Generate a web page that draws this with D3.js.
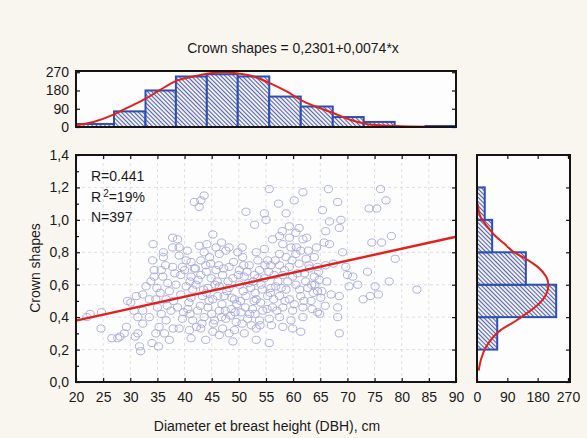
<!DOCTYPE html>
<html>
<head>
<meta charset="utf-8">
<script src="https://cdn.jsdelivr.net/npm/d3@7/dist/d3.min.js"></script>
<style>
  body { margin: 0; background: #f9f6f0; }
  svg { display: block; font-family: "Liberation Sans", Arial, sans-serif; }
</style>
</head>
<body>
<svg id="chart" width="587" height="438"></svg>
<script>
// ---- data ----
var title = "Crown shapes = 0,2301+0,0074*x";
var intercept = 0.2301, slope = 0.0074;
var statR = "R=0.441", statN = "N=397";

var xTicks = [20, 25, 30, 35, 40, 45, 50, 55, 60, 65, 70, 75, 80, 85, 90];
var yTicks = [0, 0.2, 0.4, 0.6, 0.8, 1.0, 1.2, 1.4];
var countTicks = [0, 90, 180, 270];

// DBH (cm), crown shape
var points = [
  [22.6,0.42],[22.0,0.40],[24.6,0.33],[24.7,0.43],[26.6,0.27],[27.7,0.27],[28.1,0.28],[28.9,0.30],[29.3,0.34],[29.5,0.50],
  [30.1,0.49],[30.7,0.44],[30.9,0.28],[31.1,0.53],[31.4,0.40],[31.4,0.30],[31.7,0.22],[31.9,0.19],[32.3,0.54],[32.3,0.44],
  [32.3,0.36],[32.9,0.59],[33.5,0.51],[33.8,0.62],[34.1,0.75],[34.2,0.85],[34.4,0.69],[34.4,0.65],[34.7,0.51],[34.7,0.30],
  [35.0,0.46],[35.3,0.34],[35.7,0.69],[35.7,0.42],[36.0,0.65],[36.1,0.80],[36.1,0.77],[36.3,0.30],[36.6,0.51],[36.6,0.38],
  [37.2,0.56],[37.2,0.26],[37.5,0.44],[37.8,0.89],[37.8,0.83],[37.8,0.71],[34.0,0.24],[35.2,0.22],[33.5,0.40],[34.9,0.58],
  [36.9,0.61],[37.9,0.33],[36.8,0.47],
  [41.8,1.11],[43.0,1.12],[43.6,1.15],[42.7,1.08],[51.3,1.05],[52.9,0.97],[54.7,1.04],[55.0,1.00],[55.6,1.19],
  [45.2,0.91],[38.7,0.88],[39.0,0.83],[42.7,0.84],[43.6,0.80],[45.8,0.83],[47.6,0.81],[48.2,0.83],
  [39.0,0.78],[40.3,0.75],[41.2,0.74],[43.0,0.75],[44.6,0.77],[46.4,0.79],[49.8,0.80],[50.7,0.77],[53.2,0.80],[54.7,0.82],
  [56.2,0.88],[53.5,0.75],[55.3,0.75],
  [39.6,0.71],[41.8,0.70],[43.9,0.72],[45.8,0.69],[48.2,0.71],[50.1,0.69],[51.9,0.72],[53.8,0.69],[55.9,0.72],
  [39.3,0.66],[41.2,0.65],[43.0,0.66],[44.9,0.64],[47.0,0.66],[48.9,0.64],[51.0,0.65],[52.9,0.66],[54.7,0.64],[56.5,0.66],
  [38.4,0.60],[40.3,0.59],[42.1,0.60],[44.3,0.58],[46.4,0.59],[48.2,0.58],[50.1,0.60],[52.2,0.58],[54.1,0.60],[55.9,0.58],
  [39.3,0.54],[41.2,0.52],[43.3,0.53],[45.2,0.51],[47.3,0.53],[49.2,0.51],[51.3,0.53],[53.2,0.51],[55.3,0.53],
  [38.7,0.46],[40.6,0.45],[42.4,0.44],[44.3,0.46],[46.4,0.44],[48.6,0.45],[50.4,0.43],[52.5,0.45],[54.4,0.44],[56.2,0.46],
  [39.6,0.39],[41.5,0.38],[43.6,0.40],[45.5,0.38],[47.6,0.39],[49.5,0.37],[51.6,0.39],[53.8,0.38],[55.6,0.39],
  [39.0,0.33],[40.9,0.32],[43.0,0.33],[45.2,0.31],[47.0,0.33],[49.2,0.32],[51.0,0.30],[53.2,0.33],
  [41.2,0.27],[43.9,0.26],[46.4,0.29],[48.2,0.30],[48.9,0.25],[53.2,0.26],[55.6,0.24],
  [40.0,0.69],[42.5,0.63],[44.0,0.55],[46.0,0.62],[47.8,0.56],[49.6,0.48],[50.8,0.56],[52.6,0.62],[54.0,0.49],[55.8,0.55],
  [40.8,0.49],[42.9,0.47],[45.0,0.42],[46.9,0.48],[48.5,0.41],[50.6,0.36],[52.0,0.42],[53.9,0.35],[41.5,0.57],[44.0,0.68],
  [46.3,0.72],[49.0,0.74],[51.5,0.68],[53.0,0.55],[45.3,0.36],[47.5,0.44],[57.2,0.62],[43.2,0.36],
  [35.5,0.55],[36.5,0.72],[38.0,0.50],[38.2,0.67],[39.8,0.43],[40.5,0.81],[41.0,0.62],[42.0,0.70],[42.2,0.34],[43.5,0.57],
  [44.5,0.50],[44.8,0.73],[45.6,0.60],[46.1,0.53],[46.8,0.40],[47.2,0.70],[48.0,0.62],[48.7,0.52],[49.3,0.43],[49.9,0.66],
  [50.3,0.50],[50.9,0.72],[51.2,0.46],[51.8,0.61],[52.3,0.35],[52.8,0.50],[53.5,0.64],[54.3,0.57],[54.8,0.72],[55.2,0.45],
  [55.5,0.68],[56.4,0.51],[56.7,0.75],[57.0,0.44],[57.8,0.58],[58.4,0.69],[58.5,0.50],[59.0,0.62],[59.8,0.75],[60.2,0.48],
  [60.8,0.67],[61.2,0.57],[62.0,0.50],[62.3,0.62],[62.9,0.72],[63.5,0.45],[64.0,0.60],[64.7,0.68],[65.3,0.56],[66.0,0.72],
  [60.6,0.83],[58.0,0.93],[62.8,0.81],[63.7,0.55],[46.8,0.86],[50.6,0.83],[44.1,0.85],[41.0,0.42],[53.0,0.42],[56.0,0.35],
  [61.8,1.17],[60.2,1.12],[57.3,1.10],[58.7,1.04],[66.5,1.19],[68.2,1.11],[65.4,1.06],[66.7,0.99],[68.8,1.00],[68.5,0.95],
  [74.0,1.07],[66.0,0.93],[59.3,0.96],[61.1,0.95],[60.5,0.92],[59.3,0.89],[57.5,0.90],[61.8,0.88],
  [58.1,0.85],[59.6,0.83],[61.4,0.81],[57.5,0.79],[58.7,0.77],[60.5,0.79],[62.4,0.76],[63.9,0.77],[65.7,0.86],[66.7,0.85],
  [69.1,0.80],[57.5,0.72],[59.3,0.71],[61.1,0.73],[63.0,0.70],[64.5,0.71],
  [58.1,0.66],[59.9,0.65],[62.1,0.67],[63.9,0.65],[64.8,0.63],[69.7,0.71],[70.0,0.66],[71.0,0.65],[70.3,0.59],
  [56.8,0.59],[58.7,0.57],[60.5,0.60],[62.7,0.58],[64.5,0.56],[57.5,0.53],[59.3,0.51],[61.4,0.53],[63.3,0.50],[65.1,0.52],
  [58.1,0.46],[59.9,0.44],[61.8,0.46],[64.5,0.43],[57.5,0.40],[59.6,0.38],[61.8,0.40],[58.1,0.34],[59.9,0.33],[61.4,0.31],
  [68.5,0.30],[68.2,0.46],[68.5,0.53],[67.0,0.54],[71.9,0.60],[73.7,0.68],[68.2,0.40],
  [62.5,0.89],[64.3,0.83],[63.4,0.60],[65.9,0.47],[64.9,0.42],[66.2,0.62],[67.4,0.73],
  [75.4,1.07],[76.1,1.19],[77.1,1.12],[74.5,0.86],[76.3,0.86],[78.1,0.90],[78.8,0.76],[77.7,0.62],[75.1,0.59],[75.7,0.54],
  [72.9,0.51],[74.2,0.53],[82.8,0.57]
];

// histogram of DBH (top)
var dbhEdges = [20, 27, 32.8, 38.4, 44.1, 49.8, 55.6, 61.4, 67.3, 73, 78.7, 84.4, 90];
var dbhCounts = [15, 77, 180, 249, 260, 249, 150, 101, 49, 25, 0, 5];
var dbhFitX = [19.8, 23.2, 26.9, 29.3, 33.0, 35.5, 38.5, 41.6, 44.7, 47.1, 49.6, 52.7, 55.7, 58.8, 61.9, 64.9, 67.4, 70.5, 73.5, 76.6, 81.5, 90];
var dbhFitN = [8, 25, 61, 93, 142, 183, 227, 249, 265, 270, 265, 249, 216, 175, 126, 93, 69, 36, 15, 7, 2, 0];

// histogram of crown shape (right)
var csEdges = [0.2, 0.4, 0.6, 0.8, 1.0, 1.2];
var csCounts = [60, 235, 145, 45, 23];
var csFitY = [1.10, 1.02, 0.96, 0.91, 0.855, 0.80, 0.76, 0.71, 0.65, 0.60, 0.54, 0.475, 0.42, 0.37, 0.32, 0.27, 0.21, 0.14, 0.07];
var csFitN = [2, 10, 30, 50, 80, 110, 145, 180, 205, 212, 205, 180, 145, 110, 70, 45, 25, 12, 5];

// ---- drawing ----
var svg = d3.select("#chart");
var ink = "#141414", barBlue = "#2f4fae", red = "#e3211c";
var fmt = function(d){ return d3.format(".1f")(d).replace(".", ","); };

svg.append("rect").attr("width", 587).attr("height", 438).attr("fill", "#f9f6f0");

var defs = svg.append("defs");
var pat = defs.append("pattern").attr("id", "hatch")
    .attr("patternUnits", "userSpaceOnUse")
    .attr("width", 3).attr("height", 3)
    .attr("patternTransform", "rotate(-45)");
pat.append("rect").attr("width", 3).attr("height", 3).attr("fill", "#eceef8");
pat.append("line").attr("x1", 0.5).attr("y1", 0).attr("x2", 0.5).attr("y2", 3)
    .attr("stroke", "#45539e").attr("stroke-width", 0.9);

var x = d3.scaleLinear().domain([20, 90]).range([76, 456]);
var y = d3.scaleLinear().domain([0, 1.4]).range([382, 155]);
var topY = d3.scaleLinear().domain([0, 276]).range([127, 71]);
var rightX = d3.scaleLinear().domain([0, 276]).range([477, 570]);

function styleAxis(g){
  g.attr("font-family", "Liberation Sans, Arial, sans-serif").attr("font-size", 14).attr("color", ink);
  g.select(".domain").remove();
  g.selectAll(".tick line").attr("stroke-width", 1.2);
  g.selectAll("text").attr("fill", "#1a1a1a");
}

// ---- title ----
svg.append("text").attr("x", 293).attr("y", 53).attr("text-anchor", "middle")
    .attr("font-size", 14).attr("fill", "#1a1a1a").text(title);

// ---- main scatter panel ----
svg.append("rect").attr("x", x(20)).attr("y", y(1.4))
    .attr("width", x(90) - x(20)).attr("height", y(0) - y(1.4)).attr("fill", "#fdfdfe");

var grid = svg.append("g").attr("stroke", "#d6d6e0").attr("stroke-width", 0.8).attr("stroke-dasharray", "3,3");
grid.selectAll(".gx").data(xTicks.slice(1, -1)).enter().append("line")
    .attr("x1", d => x(d)).attr("x2", d => x(d)).attr("y1", y(0)).attr("y2", y(1.4));
grid.selectAll(".gy").data(yTicks.slice(1, -1)).enter().append("line")
    .attr("x1", x(20)).attr("x2", x(90)).attr("y1", d => y(d)).attr("y2", d => y(d));

svg.append("g").selectAll("ellipse").data(points).enter().append("ellipse")
    .attr("cx", d => x(d[0])).attr("cy", d => y(d[1]))
    .attr("rx", 4.1).attr("ry", 3.6)
    .attr("fill", "none").attr("stroke", "#a3a7d8").attr("stroke-width", 0.9);

svg.append("line")
    .attr("x1", x(20)).attr("y1", y(intercept + slope * 20))
    .attr("x2", x(90)).attr("y2", y(intercept + slope * 90))
    .attr("stroke", red).attr("stroke-width", 2.4);

svg.append("g").attr("transform", "translate(0," + y(0) + ")")
    .call(d3.axisBottom(x).tickValues(xTicks).tickSize(-4).tickPadding(10)).call(styleAxis);
svg.append("g").attr("transform", "translate(0," + y(1.4) + ")")
    .call(d3.axisTop(x).tickValues(xTicks).tickSize(-4).tickFormat("")).call(styleAxis);
svg.append("g").attr("transform", "translate(" + x(20) + ",0)")
    .call(d3.axisLeft(y).tickValues(yTicks).tickSize(-4).tickPadding(7).tickFormat(fmt)).call(styleAxis);
svg.append("g").attr("transform", "translate(" + x(20) + ",0)")
    .call(d3.axisLeft(y).tickValues(d3.range(1, 14, 2).map(d => d / 10)).tickSize(-3).tickFormat("")).call(styleAxis);
svg.append("g").attr("transform", "translate(" + x(90) + ",0)")
    .call(d3.axisRight(y).tickValues(yTicks).tickSize(-4).tickFormat("")).call(styleAxis);

svg.append("rect").attr("x", x(20)).attr("y", y(1.4))
    .attr("width", x(90) - x(20)).attr("height", y(0) - y(1.4))
    .attr("fill", "none").attr("stroke", ink).attr("stroke-width", 2);

var stats = svg.append("g").attr("font-size", 14).attr("fill", "#1a1a1a");
stats.append("text").attr("x", 91).attr("y", 181).text(statR);
var r2 = stats.append("text").attr("x", 91).attr("y", 202);
r2.append("tspan").text("R");
r2.append("tspan").attr("dy", -5).attr("dx", 2).attr("font-size", 10).text("2");
r2.append("tspan").attr("dy", 5).text("=19%");
stats.append("text").attr("x", 91).attr("y", 222).text(statN);

svg.append("text").attr("x", 267).attr("y", 431).attr("text-anchor", "middle")
    .attr("font-size", 14).attr("fill", "#1a1a1a").text("Diameter et breast height (DBH), cm");
svg.append("text").attr("transform", "translate(40,268) rotate(-90)").attr("text-anchor", "middle")
    .attr("font-size", 14).attr("fill", "#1a1a1a").text("Crown shapes");

// ---- top histogram ----
svg.append("rect").attr("x", x(20)).attr("y", topY(276))
    .attr("width", x(90) - x(20)).attr("height", topY(0) - topY(276)).attr("fill", "#fdfdfe");

var topBins = dbhCounts.map((c, i) => ({x0: dbhEdges[i], x1: dbhEdges[i + 1], n: c}));
svg.append("g").selectAll("rect").data(topBins).enter().append("rect")
    .attr("x", d => x(d.x0)).attr("width", d => x(d.x1) - x(d.x0))
    .attr("y", d => topY(d.n)).attr("height", d => topY(0) - topY(d.n))
    .attr("fill", "url(#hatch)").attr("stroke", barBlue).attr("stroke-width", 2);

svg.append("path").datum(dbhFitX.map((v, i) => [v, dbhFitN[i]]))
    .attr("d", d3.line().x(d => x(d[0])).y(d => topY(d[1])).curve(d3.curveMonotoneX))
    .attr("fill", "none").attr("stroke", red).attr("stroke-width", 2);

svg.append("g").attr("transform", "translate(" + x(20) + ",0)")
    .call(d3.axisLeft(topY).tickValues(countTicks).tickSize(-4).tickPadding(7)).call(styleAxis);
svg.append("g").attr("transform", "translate(" + x(90) + ",0)")
    .call(d3.axisRight(topY).tickValues(countTicks).tickSize(-4).tickFormat("")).call(styleAxis);
svg.append("rect").attr("x", x(20)).attr("y", topY(276))
    .attr("width", x(90) - x(20)).attr("height", topY(0) - topY(276))
    .attr("fill", "none").attr("stroke", ink).attr("stroke-width", 2);

// ---- right histogram ----
svg.append("rect").attr("x", rightX(0)).attr("y", y(1.4))
    .attr("width", rightX(276) - rightX(0)).attr("height", y(0) - y(1.4)).attr("fill", "#fdfdfe");

var rightBins = csCounts.map((c, i) => ({y0: csEdges[i], y1: csEdges[i + 1], n: c}));
svg.append("g").selectAll("rect").data(rightBins).enter().append("rect")
    .attr("x", rightX(0)).attr("width", d => rightX(d.n) - rightX(0))
    .attr("y", d => y(d.y1)).attr("height", d => y(d.y0) - y(d.y1))
    .attr("fill", "url(#hatch)").attr("stroke", barBlue).attr("stroke-width", 2);

svg.append("path").datum(csFitY.map((v, i) => [csFitN[i], v]))
    .attr("d", d3.line().x(d => rightX(d[0])).y(d => y(d[1])).curve(d3.curveMonotoneY))
    .attr("fill", "none").attr("stroke", red).attr("stroke-width", 2);

svg.append("g").attr("transform", "translate(0," + y(0) + ")")
    .call(d3.axisBottom(rightX).tickValues(countTicks).tickSize(-4).tickPadding(10)).call(styleAxis);
svg.append("g").attr("transform", "translate(0," + y(1.4) + ")")
    .call(d3.axisTop(rightX).tickValues(countTicks.slice(1)).tickSize(-4).tickFormat("")).call(styleAxis);
svg.append("g").attr("transform", "translate(" + rightX(276) + ",0)")
    .call(d3.axisRight(y).tickValues(yTicks).tickSize(-4).tickFormat("")).call(styleAxis);
svg.append("rect").attr("x", rightX(0)).attr("y", y(1.4))
    .attr("width", rightX(276) - rightX(0)).attr("height", y(0) - y(1.4))
    .attr("fill", "none").attr("stroke", ink).attr("stroke-width", 2);
</script>
</body>
</html>
